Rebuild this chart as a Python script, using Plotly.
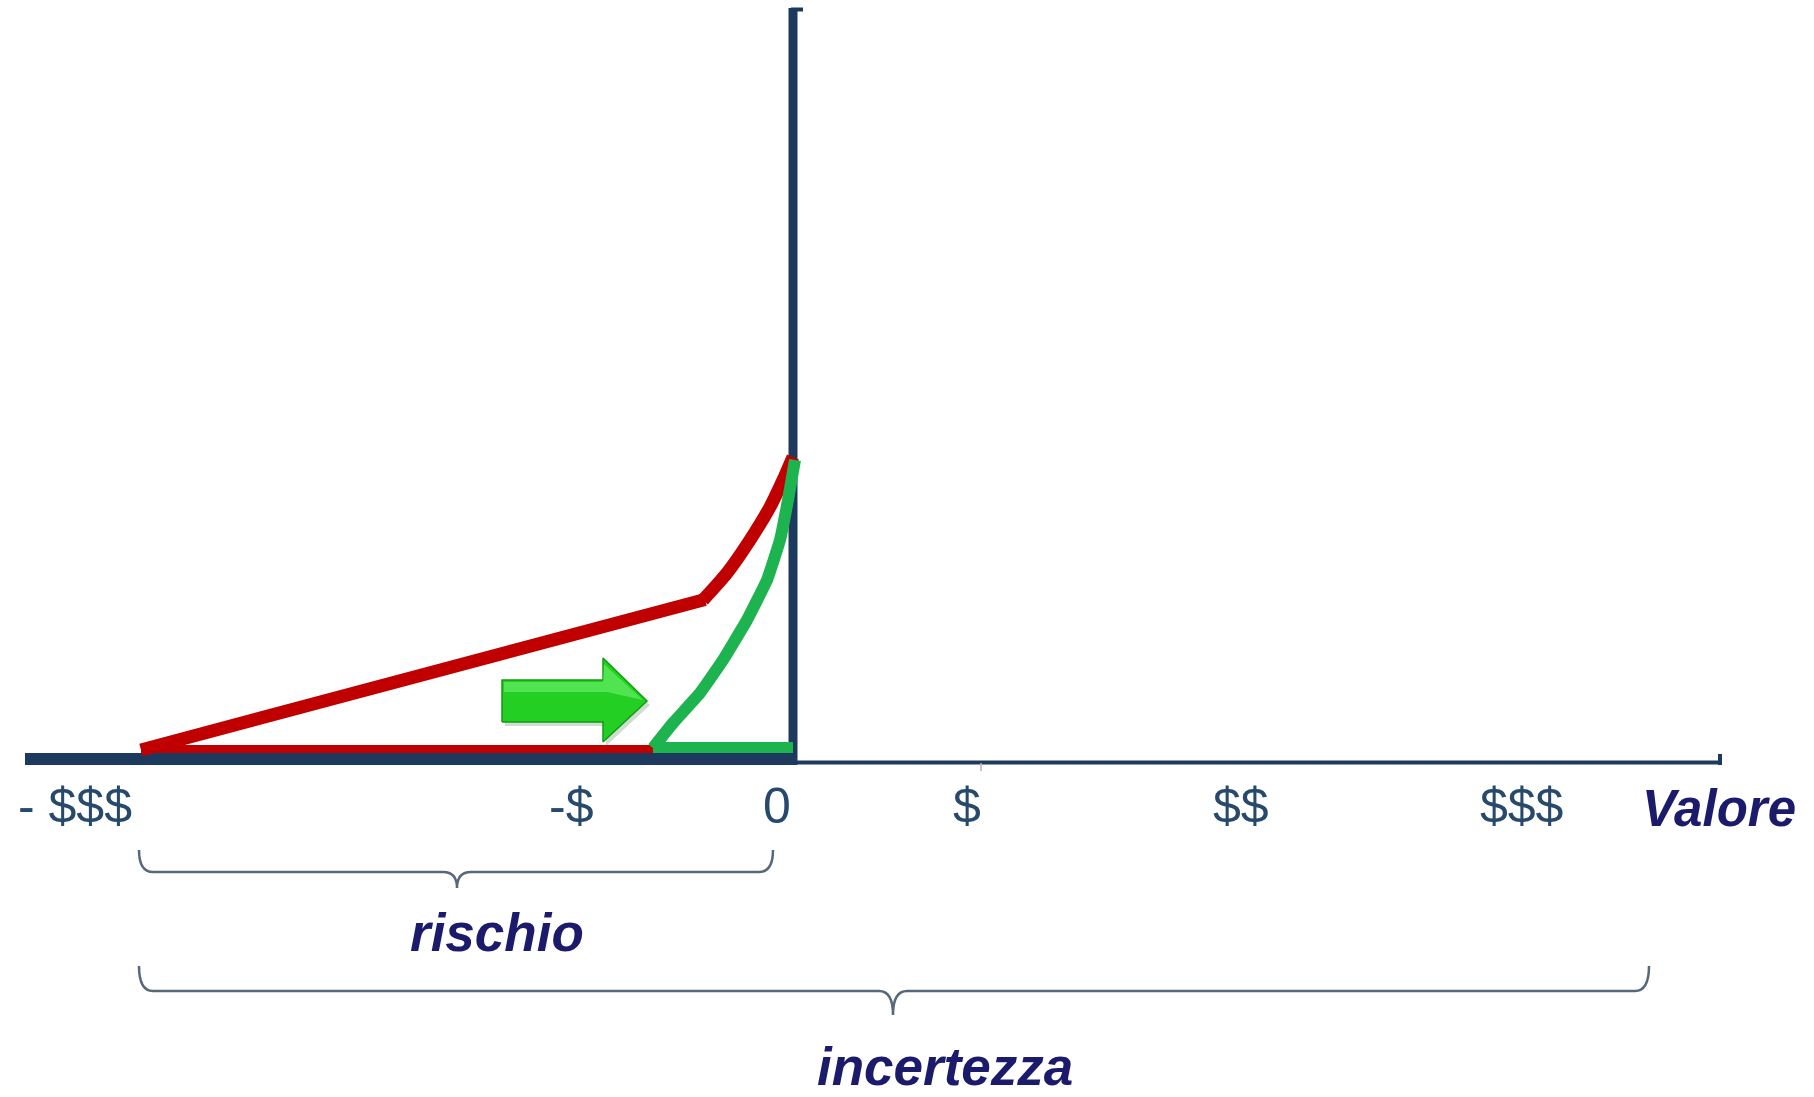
import plotly.graph_objects as go

# ---------------- data (value units; y-axis at x=0, x-axis at y=0) ----------------
red_line_x = [-6.52, -0.88]
red_line_y = [0.09, 1.595]
red_curve_x = [-0.90, -0.66, -0.43, -0.23, -0.10, 0.00]
red_curve_y = [1.59, 1.86, 2.19, 2.52, 2.79, 3.02]
red_base_x = [-6.52, 0.00]
red_base_y = [0.10, 0.10]

green_x = [-1.40, -1.20, -0.93, -0.70, -0.46, -0.26, -0.13, -0.05, 0.02]
green_y = [0.11, 0.36, 0.66, 0.99, 1.39, 1.79, 2.19, 2.59, 2.99]
green_base_x = [-1.40, 0.00]
green_base_y = [0.115, 0.115]

tick_labels = ["- $$$", "-$", "0", "$", "$$", "$$$"]
tick_pos = [-7.18, -2.22, -0.16, 1.74, 4.48, 7.28]
tick_label_y = -0.47
axis_title = "Valore"
axis_title_x = 9.26

xaxis_line_left = [-7.68, 0.0]
xaxis_line_right = [0.0, 9.27]
yaxis_line = [0.0, 7.51]

arrow_x = [-2.91, -2.91, -1.90, -1.90, -1.46, -1.90, -1.90, -2.91]
arrow_y = [0.37, 0.79, 0.79, 1.01, 0.58, 0.17, 0.37, 0.37]

brace_labels = ["rischio", "incertezza"]
brace_x0 = [-6.54, -6.54]
brace_x1 = [-0.20, 8.56]
brace_xc = [-3.36, 1.00]
brace_ytip = [-0.91, -2.07]
brace_yline = [-1.13, -2.32]
brace_ypoint = [-1.29, -2.56]
brace_label_x = [-2.96, 1.52]
brace_label_y = [-1.73, -3.07]

# ---------------- styles ----------------
RED = "#c00000"
GREEN = "#1db44f"
AXIS = "#1d3a5e"
TICK_COL = "#27496c"
NAVY = "#1b1a6b"
BRACE = "#56687a"

fig = go.Figure()

# axes (drawn first, curves lie on top)
fig.add_trace(go.Scatter(x=xaxis_line_left, y=[0, 0], mode="lines",
                         line=dict(color=AXIS, width=12), hoverinfo="skip"))
fig.add_trace(go.Scatter(x=xaxis_line_right, y=[-0.035, -0.035], mode="lines",
                         line=dict(color=AXIS, width=4), hoverinfo="skip"))
fig.add_trace(go.Scatter(x=[xaxis_line_right[1], xaxis_line_right[1]], y=[-0.06, 0.05], mode="lines",
                         line=dict(color=AXIS, width=4), hoverinfo="skip"))
fig.add_trace(go.Scatter(x=[0, 0], y=[-0.06, yaxis_line[1]], mode="lines",
                         line=dict(color=AXIS, width=9), hoverinfo="skip"))
fig.add_trace(go.Scatter(x=[-0.02, 0.10], y=[yaxis_line[1] - 0.015, yaxis_line[1] - 0.015], mode="lines",
                         line=dict(color=AXIS, width=4), hoverinfo="skip"))
fig.add_trace(go.Scatter(x=[1.88, 1.88], y=[-0.04, -0.12], mode="lines",
                         line=dict(color="#d4a5a5", width=1.5), hoverinfo="skip"))

# red distribution
fig.add_trace(go.Scatter(x=red_base_x, y=red_base_y, mode="lines",
                         line=dict(color=RED, width=8), hoverinfo="skip"))
fig.add_trace(go.Scatter(x=red_line_x, y=red_line_y, mode="lines",
                         line=dict(color=RED, width=13), hoverinfo="skip"))
fig.add_trace(go.Scatter(x=red_curve_x, y=red_curve_y, mode="lines",
                         line=dict(color=RED, width=13, shape="spline", smoothing=0.7),
                         hoverinfo="skip"))

# green distribution
fig.add_trace(go.Scatter(x=green_base_x, y=green_base_y, mode="lines",
                         line=dict(color=GREEN, width=11), hoverinfo="skip"))
fig.add_trace(go.Scatter(x=green_x, y=green_y, mode="lines",
                         line=dict(color=GREEN, width=12, shape="spline", smoothing=0.3),
                         hoverinfo="skip"))

# arrow: shadow, body, highlight
fig.add_trace(go.Scatter(x=[v + 0.03 for v in arrow_x], y=[v - 0.04 for v in arrow_y],
                         mode="lines", fill="toself", fillcolor="rgba(0,60,0,0.18)",
                         line=dict(width=0), hoverinfo="skip"))
fig.add_trace(go.Scatter(x=arrow_x, y=arrow_y, mode="lines", fill="toself",
                         fillcolor="#22cf22", line=dict(color="#129c12", width=1.5),
                         hoverinfo="skip"))
hl_x = [arrow_x[1] + 0.02, arrow_x[2], arrow_x[3] + 0.01, arrow_x[4] - 0.04, arrow_x[2] + 0.04, arrow_x[1] + 0.02]
hl_y = [arrow_y[1] - 0.02, arrow_y[2] - 0.02, arrow_y[3] - 0.06, arrow_y[4] + 0.01, arrow_y[2] - 0.12, arrow_y[1] - 0.12]
fig.add_trace(go.Scatter(x=hl_x, y=hl_y, mode="lines", fill="toself",
                         fillcolor="rgba(120,245,120,0.55)", line=dict(width=0),
                         hoverinfo="skip"))

# braces
for i in range(len(brace_labels)):
    x0, x1, xc = brace_x0[i], brace_x1[i], brace_xc[i]
    yt, yl, yp = brace_ytip[i], brace_yline[i], brace_ypoint[i]
    r = 0.14
    path = (f"M {x0},{yt} Q {x0},{yl} {x0 + r},{yl} L {xc - r},{yl} "
            f"Q {xc},{yl} {xc},{yp} Q {xc},{yl} {xc + r},{yl} "
            f"L {x1 - r},{yl} Q {x1},{yl} {x1},{yt}")
    fig.add_shape(type="path", path=path, xref="x", yref="y",
                  line=dict(color=BRACE, width=2.5))
    fig.add_annotation(x=brace_label_x[i], y=brace_label_y[i], xref="x", yref="y",
                       text=f"<b><i>{brace_labels[i]}</i></b>", showarrow=False,
                       font=dict(family="Liberation Sans, Arial", size=53, color=NAVY),
                       xanchor="center", yanchor="middle")

# tick labels
for lab, xp in zip(tick_labels, tick_pos):
    fig.add_annotation(x=xp, y=tick_label_y, xref="x", yref="y", text=lab, showarrow=False,
                       font=dict(family="Liberation Sans, Arial", size=50, color=TICK_COL),
                       xanchor="center", yanchor="middle")
fig.add_annotation(x=axis_title_x, y=tick_label_y - 0.02, xref="x", yref="y",
                   text=f"<b><i>{axis_title}</i></b>", showarrow=False,
                   font=dict(family="Liberation Sans, Arial", size=51, color=NAVY),
                   xanchor="center", yanchor="middle")

fig.update_layout(
    width=1814, height=1097, autosize=False,
    margin=dict(l=0, r=0, t=0, b=0),
    paper_bgcolor="white", plot_bgcolor="white",
    showlegend=False,
    xaxis=dict(range=[-7.93, 10.21], visible=False, fixedrange=True),
    yaxis=dict(range=[-3.38, 7.59], visible=False, fixedrange=True),
)

fig.write_html("out.html",
               config={"displayModeBar": False},
               post_script="document.body.style.margin='0';document.body.style.overflow='hidden';")
